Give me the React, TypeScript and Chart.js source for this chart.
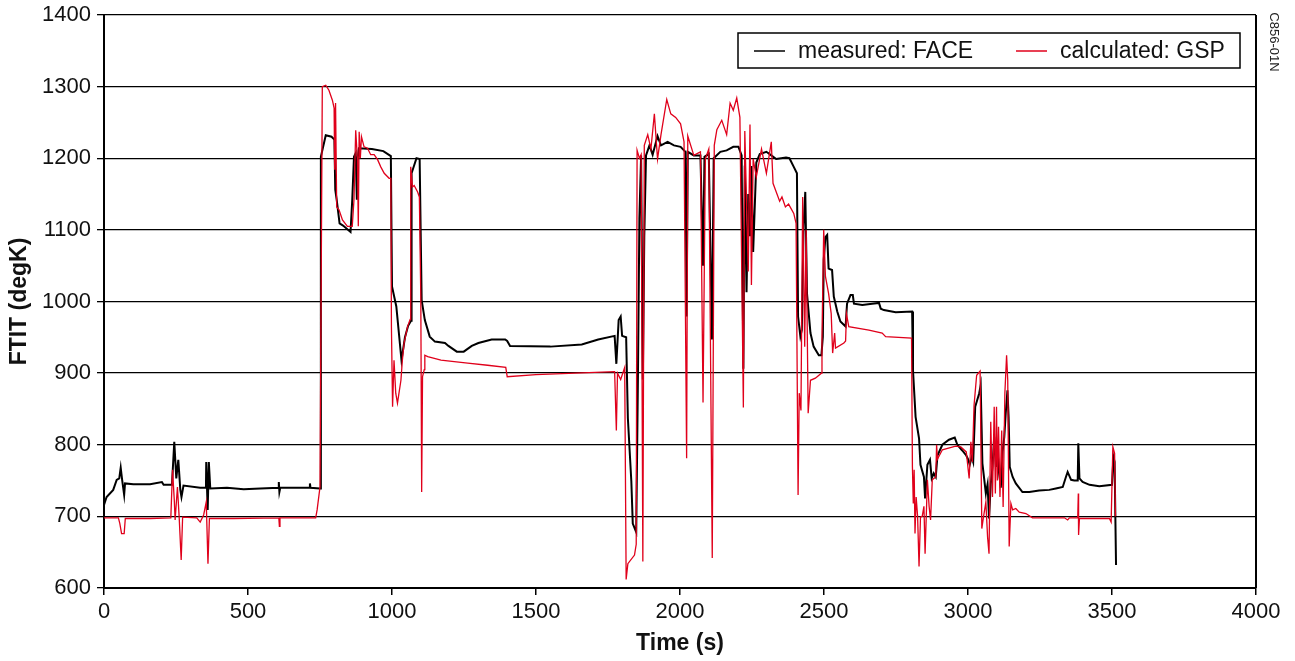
import React, { useEffect, useRef } from "react";
import { Chart, registerables } from "chart.js";

Chart.register(...registerables);

// ---- data ----
const measuredTime = [
  0, 9, 32, 44, 53, 58, 63, 70, 73, 102, 160, 201, 207, 236, 244, 251, 258, 265, 269, 276,
  334, 354, 355, 360, 364, 369, 427, 485, 543, 606, 607, 609, 612, 659, 714, 715, 717, 750,
  753, 770, 790, 800, 803, 808, 818, 830, 856, 862, 868, 874, 878, 880, 885, 930, 970, 996,
  1000, 1015, 1033, 1045, 1056, 1066, 1068, 1085, 1096, 1103, 1114, 1131, 1149, 1184, 1196,
  1225, 1249, 1277, 1300, 1346, 1393, 1400, 1410, 1550, 1659, 1716, 1773, 1779, 1787, 1794,
  1799, 1813, 1819, 1831, 1836, 1848, 1854, 1859, 1865, 1871, 1876, 1882, 1894, 1905, 1922,
  1934, 1957, 1979, 2002, 2019, 2023, 2027, 2048, 2071, 2080, 2085, 2100, 2111, 2117, 2140,
  2162, 2185, 2203, 2214, 2220, 2225, 2231, 2237, 2243, 2248, 2254, 2265, 2277, 2300, 2317,
  2334, 2368, 2380, 2395, 2406, 2410, 2418, 2423, 2429, 2435, 2441, 2453, 2464, 2482, 2491,
  2496, 2499, 2505, 2511, 2516, 2528, 2534, 2546, 2557, 2575, 2580, 2592, 2600, 2604, 2633,
  2667, 2691, 2697, 2708, 2749, 2806, 2809, 2818, 2830, 2835, 2847, 2851, 2859, 2868, 2874,
  2881, 2888, 2894, 2911, 2934, 2954, 2963, 2980, 2994, 3000, 3006, 3013, 3018, 3025, 3039,
  3044, 3050, 3062, 3068, 3073, 3079, 3085, 3091, 3097, 3102, 3108, 3114, 3120, 3126, 3131,
  3137, 3141, 3145, 3155, 3166, 3189, 3213, 3247, 3282, 3305, 3329, 3340, 3346, 3358, 3369,
  3381, 3383, 3387, 3398, 3422, 3456, 3500, 3505, 3509, 3514,
];
const measuredFTIT = [
  716, 727, 737, 751, 753, 768, 751, 730, 746, 745, 745, 748, 744, 744, 804, 753, 779, 737, 727, 743,
  740, 740, 776, 709, 776, 739, 740, 738, 739, 740, 748, 734, 740, 740, 740, 746, 740, 739,
  1202, 1232, 1230, 1226, 1156, 1142, 1109, 1106, 1097, 1142, 1202, 1207, 1142, 1197, 1214, 1213, 1210, 1203,
  1021, 993, 918, 950, 966, 973, 1179, 1200, 1199, 1002, 974, 951, 944, 942, 938,
  930, 930, 938, 942, 947, 947, 945, 938, 937, 940, 947, 952, 913, 974, 979,
  952, 950, 837, 749, 690, 678, 896, 1116, 1204, 891, 1091, 1204, 1218, 1205, 1231,
  1218, 1223, 1218, 1216, 1209, 979, 1209, 1204, 1204, 1050, 1202, 1206, 947, 1200, 1209,
  1211, 1216, 1216, 1204, 906, 1190, 1013, 1150, 1091, 1189, 1069, 1194, 1206, 1209, 1204,
  1199, 1201, 1200, 1188, 1179, 979, 951, 960, 1104, 1153, 1011, 956, 937, 925, 925,
  951, 1058, 1090, 1093, 1046, 1044, 1007, 986, 972, 965, 997, 1009, 1009, 997, 995,
  997, 998, 990, 988, 985, 986, 904, 839, 809, 772, 755, 725, 772, 779, 753,
  760, 755, 785, 800, 807, 810, 800, 792, 785, 780, 772, 783, 776, 853, 872,
  883, 774, 732, 745, 697, 745, 769, 811, 769, 797, 760, 740, 790, 811, 844,
  876, 839, 769, 755, 746, 734, 734, 736, 737, 739, 741, 755, 762, 751, 750,
  750, 802, 753, 748, 744, 742, 744, 783, 776, 632,
];

const calculatedTime = [
  0, 50, 55, 61, 70, 74, 160, 232, 238, 244, 247, 255, 261, 268, 273, 322, 334, 346, 355, 361,
  366, 450, 607, 609, 611, 735, 740, 750, 758, 770, 781, 793, 799, 801, 804, 808, 816, 828,
  845, 862, 868, 874, 880, 883, 886, 890, 894, 903, 915, 926, 938, 950, 961, 973, 990, 996,
  998, 1002, 1007, 1013, 1019, 1031, 1036, 1042, 1054, 1063, 1065, 1071, 1077, 1089, 1095,
  1100, 1103, 1106, 1112, 1114, 1124, 1170, 1216, 1263, 1332, 1395, 1400, 1500, 1773, 1779,
  1783, 1794, 1808, 1813, 1819, 1842, 1848, 1851, 1859, 1865, 1871, 1876, 1888, 1899, 1911,
  1922, 1934, 1954, 1968, 1985, 2002, 2014, 2023, 2027, 2048, 2071, 2080, 2088, 2100, 2112,
  2119, 2128, 2145, 2162, 2174, 2185, 2197, 2208, 2220, 2225, 2237, 2243, 2248, 2254, 2265,
  2283, 2300, 2317, 2323, 2346, 2354, 2366, 2377, 2395, 2403, 2410, 2414, 2420, 2426, 2433,
  2438, 2445, 2453, 2470, 2491, 2493, 2499, 2505, 2516, 2525, 2530, 2537, 2540, 2569, 2575,
  2578, 2586, 2656, 2702, 2714, 2804, 2807, 2810, 2813, 2816, 2820, 2825, 2830, 2835, 2841,
  2847, 2851, 2859, 2865, 2870, 2876, 2888, 2891, 2894, 2911, 2957, 2975, 2994, 3004, 3010,
  3015, 3021, 3030, 3042, 3048, 3053, 3062, 3068, 3073, 3079, 3085, 3091, 3095, 3099, 3102,
  3106, 3111, 3117, 3122, 3128, 3134, 3138, 3143, 3149, 3155, 3166, 3178, 3201, 3224, 3282,
  3335, 3346, 3352, 3381, 3383, 3384, 3387, 3422, 3491, 3497, 3503, 3509, 3512,
];
const calculatedFTIT = [
  698, 698, 690, 676, 676, 697, 697, 698, 765, 723, 695, 741, 699, 639, 699, 698, 692, 702, 720, 634,
  697, 697, 698, 686, 698, 698, 709, 741, 1300, 1302, 1295, 1281, 1270, 1184, 1277, 1132, 1128, 1114,
  1105, 1105, 1142, 1239, 1198, 1105, 1237, 1200, 1230, 1216, 1214, 1205, 1205, 1198, 1188, 1179, 1172, 1172,
  965, 853, 918, 872, 858, 890, 918, 942, 965, 975, 1188, 1160, 1162, 1153, 1146,
  1007, 734, 895, 905, 925, 923, 918, 916, 914, 911, 908, 895, 898, 902, 820,
  900, 891, 908, 612, 634, 646, 661, 1211, 1200, 1205, 637, 1218, 1233, 1213, 1262,
  1199, 1233, 1282, 1262, 1257, 1248, 1223, 781, 1231, 1204, 1209, 859, 1199, 1213, 642,
  1218, 1240, 1253, 1233, 1277, 1267, 1284, 1257, 852, 1238, 1042, 1247, 1023, 1199, 1174,
  1213, 1179, 1223, 1165, 1140, 1146, 1132, 1136, 1123, 1109, 730, 872, 848, 1146, 937,
  1100, 844, 890, 893, 900, 951, 1100, 1035, 1011, 983, 928, 956, 935, 942, 945,
  983, 965, 960, 956, 951, 949, 769, 718, 765, 676, 727, 700, 630, 699, 700,
  714, 648, 751, 714, 695, 751, 755, 800, 780, 793, 798, 797, 790, 753, 804,
  776, 855, 897, 903, 683, 697, 720, 671, 648, 832, 727, 853, 732, 853, 750,
  825, 727, 820, 713, 872, 925, 890, 658, 718, 709, 711, 706, 704, 698, 698,
  698, 695, 698, 698, 732, 674, 697, 697, 697, 692, 797, 788, 700,
];

const seriesLabels = ["measured: FACE", "calculated: GSP"];
const xTicks = [0, 500, 1000, 1500, 2000, 2500, 3000, 3500, 4000];
const yTicks = [600, 700, 800, 900, 1000, 1100, 1200, 1300, 1400];
const xTitle = "Time (s)";
const yTitle = "FTIT (degK)";
const sideNote = "C856-01N";

const BLACK = "#000000";
const RED = "#e0001b";
const FONT = "'Liberation Sans', Arial, sans-serif";

const pairs = (xs: number[], ys: number[]) => xs.map((x, i) => ({ x, y: ys[i] }));

const decorPlugin = {
  id: "decor",
  afterDraw(chart: any) {
    const { ctx, chartArea } = chart;
    ctx.save();
    // right frame line
    ctx.strokeStyle = BLACK;
    ctx.lineWidth = 2;
    ctx.beginPath();
    ctx.moveTo(chartArea.right, chartArea.top);
    ctx.lineTo(chartArea.right, chartArea.bottom);
    ctx.stroke();

    // legend box
    const bx = 738, by = 33, bw = 502, bh = 35;
    ctx.fillStyle = "#ffffff";
    ctx.fillRect(bx, by, bw, bh);
    ctx.lineWidth = 1.5;
    ctx.strokeStyle = BLACK;
    ctx.strokeRect(bx, by, bw, bh);
    const cy = by + bh / 2 + 0.5;
    const items = [
      { color: BLACK, x0: 754, x1: 785, tx: 798, text: seriesLabels[0] },
      { color: RED, x0: 1016, x1: 1047, tx: 1060, text: seriesLabels[1] },
    ];
    ctx.font = `23px ${FONT}`;
    ctx.textBaseline = "middle";
    ctx.textAlign = "left";
    for (const it of items) {
      ctx.strokeStyle = it.color;
      ctx.lineWidth = 1.5;
      ctx.beginPath();
      ctx.moveTo(it.x0, cy);
      ctx.lineTo(it.x1, cy);
      ctx.stroke();
      ctx.fillStyle = "#111111";
      ctx.fillText(it.text, it.tx, cy + 1);
    }

    // side note, rotated
    ctx.translate(1274, 42);
    ctx.rotate(Math.PI / 2);
    ctx.font = `13px ${FONT}`;
    ctx.textAlign = "center";
    ctx.textBaseline = "middle";
    ctx.fillStyle = "#222222";
    ctx.fillText(sideNote, 0, 0);
    ctx.restore();
  },
};

export default function App() {
  const ref = useRef<HTMLCanvasElement | null>(null);

  useEffect(() => {
    const canvas = ref.current;
    if (!canvas) return;
    const chart = new Chart(canvas, {
      type: "line",
      data: {
        datasets: [
          {
            label: seriesLabels[0],
            data: pairs(measuredTime, measuredFTIT),
            borderColor: BLACK,
            borderWidth: 2,
            pointRadius: 0,
            tension: 0,
            order: 1,
          },
          {
            label: seriesLabels[1],
            data: pairs(calculatedTime, calculatedFTIT),
            borderColor: RED,
            borderWidth: 1.3,
            pointRadius: 0,
            tension: 0,
            order: 0,
          },
        ],
      },
      options: {
        animation: false,
        responsive: false,
        devicePixelRatio: 1,
        parsing: false,
        layout: { padding: { left: 0, top: 15, right: 39, bottom: 0 } },
        plugins: { legend: { display: false }, tooltip: { enabled: false } },
        scales: {
          x: {
            type: "linear",
            min: 0,
            max: 4000,
            afterFit: (s: any) => { s.height = 73; s.paddingLeft = 0; s.paddingRight = 0; },
            afterBuildTicks: (s: any) => { s.ticks = xTicks.map((v) => ({ value: v })); },
            ticks: {
              color: "#111111",
              font: { family: FONT, size: 22 },
              padding: 4,
              maxRotation: 0,
              callback: (v: any) => String(v),
            },
            grid: { drawOnChartArea: false, drawTicks: true, tickLength: 7, color: BLACK, lineWidth: 1.5 },
            border: { display: true, color: BLACK, width: 2 },
            title: {
              display: true,
              text: xTitle,
              color: "#111111",
              font: { family: FONT, size: 23, weight: "bold" },
              padding: { top: 0, bottom: 4 },
            },
          },
          y: {
            type: "linear",
            min: 600,
            max: 1400,
            afterFit: (s: any) => { s.width = 104; s.paddingTop = 0; s.paddingBottom = 0; },
            afterBuildTicks: (s: any) => { s.ticks = yTicks.map((v) => ({ value: v })); },
            ticks: {
              color: "#111111",
              font: { family: FONT, size: 22 },
              padding: 6,
              callback: (v: any) => String(v),
            },
            grid: { drawOnChartArea: true, drawTicks: true, tickLength: 7, color: BLACK, lineWidth: 1.3 },
            border: { display: true, color: BLACK, width: 2 },
            title: {
              display: true,
              text: yTitle,
              color: "#111111",
              font: { family: FONT, size: 23, weight: "bold" },
              padding: { top: 6, bottom: 0 },
            },
          },
        },
      },
      plugins: [decorPlugin],
    } as any);
    return () => chart.destroy();
  }, []);

  return (
    <div style={{ position: "fixed", left: 0, top: 0, width: 1295, height: 661, background: "#ffffff" }}>
      <canvas ref={ref} width={1295} height={661} style={{ width: 1295, height: 661, display: "block" }} />
    </div>
  );
}
